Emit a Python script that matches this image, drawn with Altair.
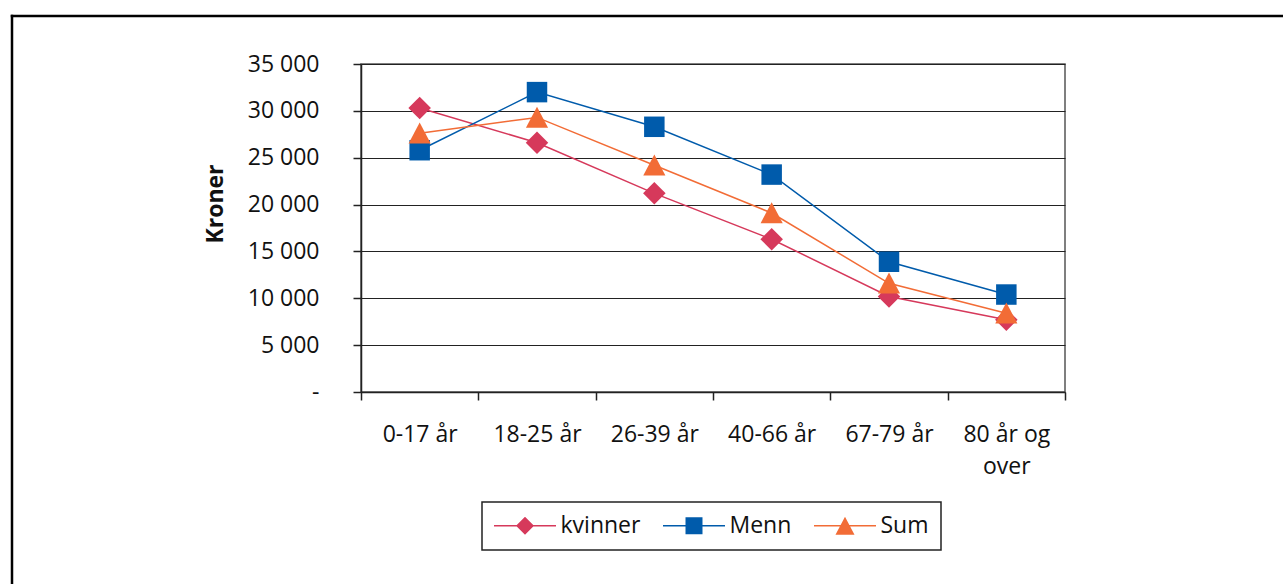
import altair as alt
import pandas as pd

# ---- data ----
categories = ["0-17 år", "18-25 år", "26-39 år", "40-66 år", "67-79 år", "80 år og\nover"]
series_names = ["kvinner", "Menn", "Sum"]
kvinner = [30300, 26600, 21200, 16300, 10200, 7700]
menn = [25800, 32000, 28300, 23200, 13900, 10400]
total = [27600, 29300, 24200, 19100, 11600, 8400]
y_ticks = [0, 5000, 10000, 15000, 20000, 25000, 30000, 35000]

colors = ["#D6395B", "#005BAB", "#F26C36"]
plot_shapes = ["M0,-1.1L1.1,0L0,1.1L-1.1,0Z", "square", "M0,-1.05L1.08,1L-1.08,1Z"]
_bar = "M-3.444,-0.083H3.444V0.083H-3.444Z"
legend_shapes = [
    _bar + "M0,-1L1,0L0,1L-1,0Z",
    _bar + "M-0.944,-0.944H0.944V0.944H-0.944Z",
    _bar + "M0,-1L1.056,1L-1.056,1Z",
]

rows = []
for name, vals in zip(series_names, [kvinner, menn, total]):
    for cat, v in zip(categories, vals):
        rows.append({"kategori": cat, "serie": name, "kroner": v})
df = pd.DataFrame(rows)

FONT = "Open Sans"

x_enc = alt.X(
    "kategori:N",
    sort=categories,
    scale=alt.Scale(type="band", paddingInner=0, paddingOuter=0),
    axis=alt.Axis(
        title=None,
        labelAngle=0,
        tickBand="extent",
        labelExpr="split(datum.label, '\\n')",
        labelLineHeight=32,
        labelPadding=23,
        labelBaseline="top",
        labelOverlap=False,
        tickSize=8,
        grid=False,
    ),
)

y_enc = alt.Y(
    "kroner:Q",
    scale=alt.Scale(domain=[0, 35000], nice=False, zero=True),
    axis=alt.Axis(
        values=y_ticks,
        labelExpr="datum.value == 0 ? '-\u00a0\u00a0\u00a0' : replace(format(datum.value, ','), ',', ' ')",
        title="Kroner",
        titleFontWeight="bold",
        titleAngle=270,
        titleX=-138.7,
        titleY=139.5,
        titleBaseline="alphabetic",
        titleAlign="center",
        tickSize=8,
        labelPadding=34,
        labelOverlap=False,
        grid=True,
    ),
)

color_plot = alt.Color("serie:N", scale=alt.Scale(domain=series_names, range=colors), legend=None)

base = alt.Chart(df)

lines = base.mark_line(strokeWidth=1.5).encode(x=x_enc, y=y_enc, color=color_plot)

points = base.mark_point(filled=True, size=420, opacity=1).encode(
    x=x_enc,
    y=y_enc,
    color=color_plot,
    shape=alt.Shape("serie:N", scale=alt.Scale(domain=series_names, range=plot_shapes), legend=None),
)

leg = alt.Legend(
    title=None,
    orient="none",
    legendX=121,
    legendY=438,
    direction="horizontal",
    symbolSize=324,
    symbolStrokeWidth=0,
    symbolOffset=19.5,
    labelOffset=24,
    columnPadding=22,
    padding=12,
    strokeColor="#222",
    labelFont=FONT,
    labelFontSize=23,
    labelColor="#111",
)

legend_layer = base.transform_filter("false").mark_point(filled=True, opacity=1).encode(
    x=x_enc,
    y=y_enc,
    color=alt.Color("serie:N", scale=alt.Scale(domain=series_names, range=colors), legend=leg),
    shape=alt.Shape("serie:N", scale=alt.Scale(domain=series_names, range=legend_shapes), legend=leg),
)

frame_df = pd.DataFrame({"a": [0]})
frame_top = alt.Chart(frame_df).mark_rule(color="#000", strokeWidth=2.5, strokeCap="square").encode(
    x=alt.value(-349), x2=alt.value(930), y=alt.value(-48)
)
frame_left = alt.Chart(frame_df).mark_rule(color="#000", strokeWidth=2.5, strokeCap="square").encode(
    x=alt.value(-349), y=alt.value(-48), y2=alt.value(530)
)

chart = (
    alt.layer(lines, points, legend_layer, frame_top, frame_left)
    .resolve_scale(color="independent", shape="independent")
    .properties(
        width=704,
        height=328,
        padding={"left": 361, "top": 64, "right": 218, "bottom": 192},
        autosize=alt.AutoSizeParams(type="none"),
        background="white",
    )
    .configure_view(stroke="#555", strokeWidth=1.5)
    .configure_axis(
        labelFont=FONT,
        labelFontSize=23,
        labelColor="#111",
        titleFont=FONT,
        titleFontSize=23,
        titleColor="#111",
        domainColor="#222",
        domainWidth=1.5,
        tickColor="#222",
        tickWidth=1.5,
        gridColor="#222",
        gridWidth=1.2,
    )
    .configure_legend(strokeWidth=1.5)
)

chart.save("out.html", embed_options={"renderer": "svg", "actions": False})
